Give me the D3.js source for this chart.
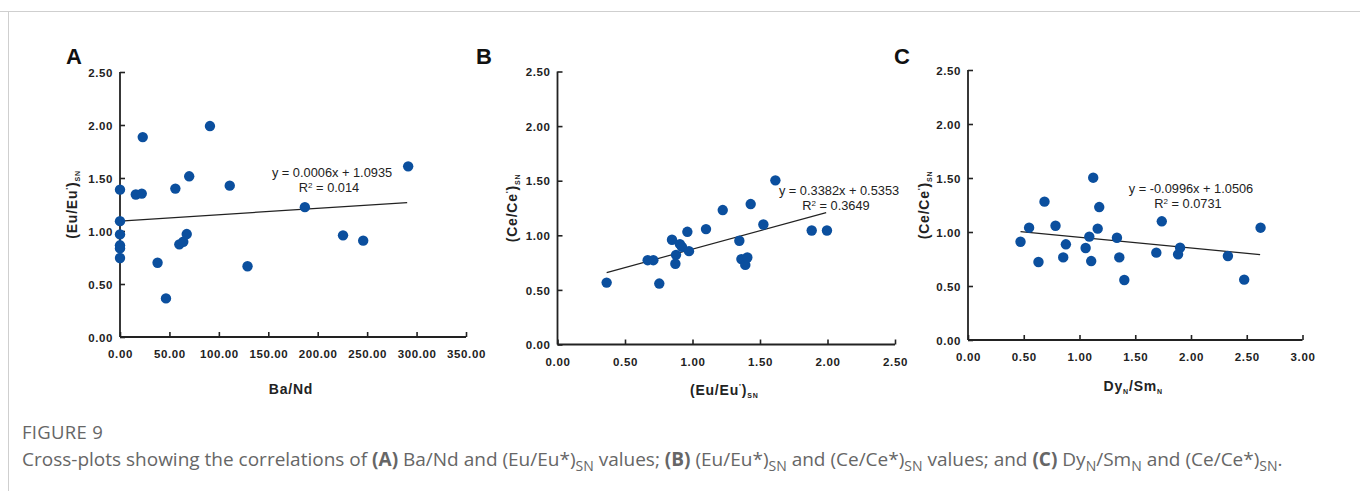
<!DOCTYPE html>
<html>
<head>
<meta charset="utf-8">
<script src="https://cdnjs.cloudflare.com/ajax/libs/d3/7.8.5/d3.min.js"></script>
<style>
  body { margin: 0; background: #fff; }
  svg { display: block; }
  .tick-label { font-family: Arial, "Liberation Sans", sans-serif; font-weight: bold; font-size: 11.5px; letter-spacing: 0.6px; fill: #222; }
  .axis-title { font-family: Arial, "Liberation Sans", sans-serif; font-weight: bold; font-size: 14px; letter-spacing: 0.8px; fill: #222; }
  .eq { font-family: Arial, "Liberation Sans", sans-serif; font-size: 12.8px; fill: #222; }
  .panel-label { font-family: Arial, "Liberation Sans", sans-serif; font-weight: bold; font-size: 22px; fill: #111; }
  .caption { font-family: "Open Sans", sans-serif; fill: #666; }
</style>
</head>
<body>
<div id="chart"></div>
<script>
// Panel A: Ba/Nd vs (Eu/Eu*)SN
var aX = [0, 0, 0, 0, 0, 0, 16, 22, 23, 38, 46.5, 56, 60, 64, 67.5, 70, 91, 111, 129, 187, 225.6, 246, 291.5];
var aY = [1.39, 1.093, 0.968, 0.865, 0.836, 0.745, 1.344, 1.353, 1.886, 0.70, 0.364, 1.40, 0.874, 0.899, 0.971, 1.516, 1.99, 1.428, 0.667, 1.225, 0.959, 0.909, 1.61];

// Panel B: (Eu/Eu*)SN vs (Ce/Ce*)SN
var bX = [0.364, 0.668, 0.710, 0.754, 0.848, 0.878, 0.873, 0.907, 0.922, 0.962, 0.974, 1.100, 1.224, 1.347, 1.362, 1.391, 1.406, 1.431, 1.525, 1.614, 1.883, 1.996];
var bY = [0.567, 0.772, 0.772, 0.558, 0.959, 0.821, 0.739, 0.919, 0.894, 1.032, 0.855, 1.057, 1.231, 0.950, 0.782, 0.729, 0.797, 1.286, 1.099, 1.503, 1.044, 1.044];

// Panel C: DyN/SmN vs (Ce/Ce*)SN
var cX = [0.471, 0.548, 0.632, 0.686, 0.785, 0.854, 0.878, 1.055, 1.088, 1.105, 1.123, 1.163, 1.177, 1.336, 1.357, 1.402, 1.689, 1.738, 1.884, 1.902, 2.331, 2.477, 2.624];
var cY = [0.910, 1.040, 0.722, 1.281, 1.058, 0.765, 0.886, 0.852, 0.957, 0.731, 1.503, 1.031, 1.231, 0.947, 0.765, 0.556, 0.809, 1.099, 0.793, 0.855, 0.778, 0.559, 1.040];

var yTicks = [0, 0.5, 1, 1.5, 2, 2.5];
var aXTicks = [0, 50, 100, 150, 200, 250, 300, 350];
var bXTicks = [0, 0.5, 1, 1.5, 2, 2.5];
var cXTicks = [0, 0.5, 1, 1.5, 2, 2.5, 3];

// trend lines: slope, intercept, x-range, and labels
var fits = [
    {slope: 0.0006, icpt: 1.0935, from: 0, to: 290.5, eq: "y = 0.0006x + 1.0935", r2: "0.014"},
    {slope: 0.3382, icpt: 0.5353, from: 0.364, to: 1.99, eq: "y = 0.3382x + 0.5353", r2: "0.3649"},
    {slope: -0.0996, icpt: 1.0506, from: 0.471, to: 2.62, eq: "y = -0.0996x + 1.0506", r2: "0.0731"}
];

var W = 1360, H = 491;
var svg = d3.select("#chart").append("svg").attr("width", W).attr("height", H);

// frame lines of the figure block
svg.append("line").attr("x1", 0).attr("x2", W).attr("y1", 11.5).attr("y2", 11.5)
    .attr("stroke", "#cfcfcf").attr("stroke-width", 1);
svg.append("line").attr("x1", 8.5).attr("x2", 8.5).attr("y1", 11.5).attr("y2", H)
    .attr("stroke", "#cfcfcf").attr("stroke-width", 1);

var panels = [
    {label: "A", xs: aX, ys: aY, xTicks: aXTicks, xDom: [0, 350], box: {x0: 120, x1: 466, y0: 337, y1: 72},
     fit: fits[0], eqX: 332, eqY: 176.5, xTitle: "ba", xTitleY: 394, labelX: 66, yTitle: "eu", yTitleX: 77},
    {label: "B", xs: bX, ys: bY, xTicks: bXTicks, xDom: [0, 2.5], box: {x0: 557.5, x1: 895, y0: 344.5, y1: 71.5},
     fit: fits[1], eqX: 839, eqY: 195, xTitle: "eu", xTitleY: 395, labelX: 476, yTitle: "ce", yTitleX: 517},
    {label: "C", xs: cX, ys: cY, xTicks: cXTicks, xDom: [0, 3], box: {x0: 968, x1: 1302.5, y0: 340, y1: 70},
     fit: fits[2], eqX: 1191, eqY: 192.5, xTitle: "dy", xTitleY: 391, labelX: 894, yTitle: "ce", yTitleX: 929}
];

function fmt(v) { return v.toFixed(2); }

// write a title with subscripts into a text element
function titleText(sel, kind) {
    if (kind === "ba") {
        sel.text("Ba/Nd");
    } else if (kind === "dy") {
        sel.append("tspan").text("Dy");
        sel.append("tspan").attr("font-size", "7px").attr("dy", 3).text("N");
        sel.append("tspan").attr("dy", -3).text("/Sm");
        sel.append("tspan").attr("font-size", "7px").attr("dy", 3).text("N");
    } else {
        var el = kind === "eu" ? "Eu" : "Ce";
        sel.append("tspan").text("(" + el + "/" + el);
        sel.append("tspan").attr("font-size", "8px").attr("dy", -6).text("'");
        sel.append("tspan").attr("dy", 6).text(")");
        sel.append("tspan").attr("font-size", "7px").attr("dy", 3).text("SN");
    }
}

panels.forEach(function(p) {
    var b = p.box;
    var x = d3.scaleLinear().domain(p.xDom).range([b.x0, b.x1]);
    var y = d3.scaleLinear().domain([0, 2.5]).range([b.y0, b.y1]);
    var g = svg.append("g");

    // x axis, ticks pointing inward
    var xAxis = d3.axisBottom(x).tickValues(p.xTicks).tickSize(-5).tickPadding(8).tickFormat(fmt);
    var gx = g.append("g").attr("transform", "translate(0," + b.y0 + ")").call(xAxis);
    var yAxis = d3.axisLeft(y).tickValues(yTicks).tickSize(-5).tickPadding(7).tickFormat(fmt);
    var gy = g.append("g").attr("transform", "translate(" + b.x0 + ",0)").call(yAxis);

    [gx, gy].forEach(function(ax) {
        ax.attr("font-size", null).attr("font-family", null);
        ax.select(".domain").attr("stroke", "#222").attr("stroke-width", 1.8)
            .attr("d", ax === gx ? "M" + b.x0 + ",0H" + b.x1 : "M0," + b.y1 + "V" + b.y0);
        ax.selectAll(".tick line").attr("stroke", "#222").attr("stroke-width", 1.6);
        ax.selectAll(".tick text").attr("class", "tick-label");
    });
    gx.selectAll(".tick text").attr("dy", "1.15em");
    gy.selectAll(".tick text").attr("dy", "0.36em");

    // trend line
    g.append("line")
        .attr("x1", x(p.fit.from)).attr("y1", y(p.fit.slope * p.fit.from + p.fit.icpt))
        .attr("x2", x(p.fit.to)).attr("y2", y(p.fit.slope * p.fit.to + p.fit.icpt))
        .attr("stroke", "#222").attr("stroke-width", 1.2);

    // points
    g.selectAll(".dot").data(d3.zip(p.xs, p.ys)).enter().append("circle")
        .attr("class", "dot")
        .attr("cx", function(d) { return x(d[0]); })
        .attr("cy", function(d) { return y(d[1]); })
        .attr("r", 5.2)
        .attr("fill", "#0b4f9e");

    // equation text
    g.append("text").attr("class", "eq").attr("text-anchor", "middle")
        .attr("x", p.eqX).attr("y", p.eqY).text(p.fit.eq);
    var r2 = g.append("text").attr("class", "eq").attr("text-anchor", "middle")
        .attr("x", p.eqX - 3).attr("y", p.eqY + 15);
    r2.append("tspan").text("R");
    r2.append("tspan").attr("font-size", "8px").attr("dy", -4).text("2");
    r2.append("tspan").attr("dy", 4).text(" = " + p.fit.r2);

    // panel label
    g.append("text").attr("class", "panel-label").attr("x", p.labelX).attr("y", 64).text(p.label);

    // axis titles
    var xt = g.append("text").attr("class", "axis-title").attr("text-anchor", "middle")
        .attr("x", (b.x0 + b.x1) / 2 - 2).attr("y", p.xTitleY);
    titleText(xt, p.xTitle);
    var yt = g.append("text").attr("class", "axis-title").attr("text-anchor", "middle")
        .attr("transform", "translate(" + p.yTitleX + "," + ((b.y0 + b.y1) / 2) + ") rotate(-90)");
    titleText(yt, p.yTitle);
});

// caption
svg.append("text").attr("class", "caption").attr("x", 22).attr("y", 439)
    .attr("font-size", "18.5px").attr("letter-spacing", "0.3px").text("FIGURE 9");
var cap = svg.append("text").attr("class", "caption").attr("x", 22).attr("y", 466).attr("font-size", "19px");
var parts = [
    ["Cross-plots showing the correlations of ", ""], ["(A)", "b"], [" Ba/Nd and (Eu/Eu*)", ""], ["SN", "s"],
    [" values; ", ""], ["(B)", "b"], [" (Eu/Eu*)", ""], ["SN", "s"], [" and (Ce/Ce*)", ""], ["SN", "s"],
    [" values; and ", ""], ["(C)", "b"], [" Dy", ""], ["N", "s"], ["/Sm", ""], ["N", "s"],
    [" and (Ce/Ce*)", ""], ["SN", "s"], [".", ""]
];
var sub = false;
parts.forEach(function(pt) {
    var t = cap.append("tspan").text(pt[0]);
    if (pt[1] === "b") t.attr("font-weight", "bold");
    if (pt[1] === "s") { t.attr("font-size", "14px").attr("dy", sub ? 0 : 5); sub = true; }
    else if (sub) { t.attr("dy", -5); sub = false; }
});
</script>
</body>
</html>
